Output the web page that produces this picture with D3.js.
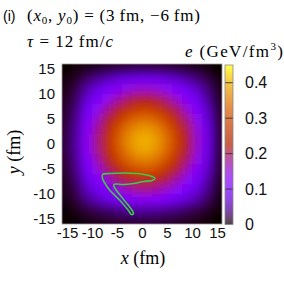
<!DOCTYPE html>
<html>
<head>
<meta charset="utf-8">
<script src="https://cdn.jsdelivr.net/npm/d3@7"></script>
<style>
body { margin: 0; background: #fff; }
svg { display: block; }
</style>
</head>
<body>
<svg></svg>
<script>
// energy density e (GeV/fm^3), 2 fm cells
var xCenters = [-15, -13, -11, -9, -7, -5, -3, -1, 1, 3, 5, 7, 9, 11, 13, 15]
var yCenters = [15, 13, 11, 9, 7, 5, 3, 1, -1, -3, -5, -7, -9, -11, -13, -15]
var eRows = [
  [0.001, 0.003, 0.006, 0.009, 0.013, 0.016, 0.018, 0.020, 0.020, 0.019, 0.017, 0.014, 0.011, 0.008, 0.004, 0.001],
  [0.004, 0.011, 0.028, 0.042, 0.055, 0.069, 0.080, 0.086, 0.088, 0.084, 0.074, 0.062, 0.048, 0.035, 0.019, 0.004],
  [0.007, 0.021, 0.051, 0.076, 0.100, 0.125, 0.145, 0.157, 0.160, 0.152, 0.135, 0.113, 0.088, 0.064, 0.035, 0.008],
  [0.010, 0.029, 0.070, 0.104, 0.138, 0.171, 0.199, 0.216, 0.220, 0.209, 0.186, 0.155, 0.121, 0.088, 0.048, 0.011],
  [0.013, 0.037, 0.090, 0.134, 0.177, 0.220, 0.255, 0.277, 0.281, 0.268, 0.239, 0.199, 0.155, 0.113, 0.062, 0.014],
  [0.015, 0.044, 0.108, 0.160, 0.213, 0.264, 0.306, 0.332, 0.338, 0.321, 0.286, 0.239, 0.186, 0.135, 0.074, 0.017],
  [0.017, 0.049, 0.122, 0.180, 0.239, 0.296, 0.344, 0.373, 0.379, 0.361, 0.321, 0.268, 0.209, 0.152, 0.084, 0.019],
  [0.018, 0.052, 0.128, 0.189, 0.251, 0.311, 0.361, 0.392, 0.398, 0.379, 0.338, 0.281, 0.220, 0.160, 0.088, 0.020],
  [0.018, 0.051, 0.126, 0.186, 0.247, 0.306, 0.355, 0.386, 0.392, 0.373, 0.332, 0.277, 0.216, 0.157, 0.086, 0.020],
  [0.016, 0.047, 0.116, 0.171, 0.227, 0.282, 0.327, 0.355, 0.361, 0.344, 0.306, 0.255, 0.199, 0.145, 0.080, 0.018],
  [0.014, 0.041, 0.100, 0.148, 0.196, 0.243, 0.282, 0.306, 0.311, 0.296, 0.264, 0.220, 0.171, 0.125, 0.069, 0.016],
  [0.011, 0.033, 0.080, 0.119, 0.158, 0.196, 0.227, 0.247, 0.251, 0.239, 0.213, 0.177, 0.138, 0.100, 0.055, 0.013],
  [0.009, 0.025, 0.061, 0.090, 0.119, 0.148, 0.171, 0.186, 0.189, 0.180, 0.160, 0.134, 0.104, 0.076, 0.042, 0.009],
  [0.006, 0.017, 0.041, 0.061, 0.080, 0.100, 0.116, 0.126, 0.128, 0.122, 0.108, 0.090, 0.070, 0.051, 0.028, 0.006],
  [0.002, 0.007, 0.017, 0.025, 0.033, 0.041, 0.047, 0.051, 0.052, 0.049, 0.044, 0.037, 0.029, 0.021, 0.011, 0.003],
  [0.001, 0.002, 0.006, 0.009, 0.011, 0.014, 0.016, 0.018, 0.018, 0.017, 0.015, 0.013, 0.010, 0.007, 0.004, 0.001]
]

// green contour (fm)
var contourX = [-7.9, -6.4, -3.7, -1.1, 0.9, 2.0, 2.6, 2.0, 0.3, -1.7, -3.7, -5.1, -5.6, -5.6, -5.1, -4.1, -2.7, -1.9, -1.7, -2.1, -2.7, -4.4, -6.4, -7.4, -7.9]
var contourY = [-6.1, -5.9, -5.8, -5.9, -6.2, -6.5, -6.9, -7.3, -7.5, -7.9, -8.1, -8.0, -8.1, -8.5, -9.3, -10.6, -12.3, -13.4, -13.9, -14.1, -13.3, -11.3, -9.3, -7.9, -6.9]

var axisTicks = [-15, -10, -5, 0, 5, 10, 15]
var barTicks = [0, 0.1, 0.2, 0.3, 0.4]

var width = 284
var height = 284
var serif = "'Liberation Serif', 'DejaVu Serif', serif"
var sans = "'Liberation Sans', Arial, sans-serif"

var xScale = d3.scaleLinear().domain([-16, 16]).range([62, 222])
var yScale = d3.scaleLinear().domain([-16, 16]).range([224, 64])
var barScale = d3.scaleLinear().domain([0, 0.45]).range([224.5, 65])

// gnuplot default palette (rgbformulae 7,5,15)
function gnuplot(t) {
  var r = Math.sqrt(t), g = t * t * t, b = Math.max(0, Math.sin(2 * Math.PI * t))
  return d3.rgb(255 * r, 255 * g, 255 * b) + ''
}
var color = d3.scaleSequential(gnuplot).domain([0, 0.45]).clamp(true)

var svg = d3.select('svg')
  .attr('width', width)
  .attr('height', height)

var defs = svg.append('defs')
defs.append('clipPath').attr('id', 'plotclip')
  .append('rect')
    .attr('x', 62).attr('y', 64).attr('width', 160).attr('height', 160)
defs.append('filter').attr('id', 'soft')
    .attr('x', '-10%').attr('y', '-10%').attr('width', '120%').attr('height', '120%')
  .append('feGaussianBlur').attr('stdDeviation', 4.2)

var cells = eRows.flatMap((row, j) => row.map((v, i) => ({x: xCenters[i], y: yCenters[j], v: v})))

var heat = svg.append('g').attr('clip-path', 'url(#plotclip)')
heat.append('rect')
  .attr('x', 62).attr('y', 64).attr('width', 160).attr('height', 160)
  .attr('fill', '#000')

// edge cells are stretched past the frame so the blur doesn't fade there
var lo = d => d === -15 ? -20 : d - 1
var hi = d => d === 15 ? 20 : d + 1
heat.append('g')
    .attr('filter', 'url(#soft)')
  .selectAll('rect')
  .data(cells)
  .enter()
  .append('rect')
    .attr('x', d => xScale(lo(d.x)))
    .attr('y', d => yScale(hi(d.y)))
    .attr('width', d => xScale(hi(d.x)) - xScale(lo(d.x)) + 0.5)
    .attr('height', d => yScale(lo(d.y)) - yScale(hi(d.y)) + 0.5)
    .attr('fill', d => color(d.v))

// contour
var contour = contourX.map((x, i) => [x, contourY[i]])
svg.append('path')
  .attr('d', d3.line().x(d => xScale(d[0])).y(d => yScale(d[1])).curve(d3.curveCatmullRomClosed)(contour))
  .attr('fill', 'none')
  .attr('stroke', '#3fc84a')
  .attr('stroke-width', 1.6)

svg.append('rect')
  .attr('x', 62).attr('y', 64).attr('width', 160).attr('height', 160)
  .attr('fill', 'none')
  .attr('stroke', '#999')
  .attr('stroke-width', 0.8)

// axes
var yAxis = svg.append('g')
  .attr('transform', 'translate(62,0)')
  .call(d3.axisLeft(yScale).tickValues(axisTicks).tickSize(0).tickPadding(7).tickFormat(d => String(d)))
var xAxis = svg.append('g')
  .attr('transform', 'translate(0,224)')
  .call(d3.axisBottom(xScale).tickValues(axisTicks).tickSize(0).tickPadding(3).tickFormat(d => String(d)))
;[xAxis, yAxis].forEach(a => {
  a.select('.domain').remove()
  a.selectAll('text').attr('font-family', sans).attr('font-size', 15).attr('fill', '#111')
})

// colour bar
var grad = defs.append('linearGradient').attr('id', 'bargrad')
  .attr('x1', 0).attr('y1', 1).attr('x2', 0).attr('y2', 0)
grad.selectAll('stop')
  .data(d3.range(0, 1.0001, 0.025))
  .enter()
  .append('stop')
    .attr('offset', d => d)
    .attr('stop-color', d => color(d * 0.45))

svg.append('rect')
  .attr('x', 225).attr('y', barScale(0.45))
  .attr('width', 8).attr('height', barScale(0) - barScale(0.45))
  .attr('fill', 'url(#bargrad)')
  .attr('opacity', 0.72)
svg.selectAll('.barline')
  .data(barTicks.slice(1))
  .enter()
  .append('line')
    .attr('x1', 225).attr('x2', 233)
    .attr('y1', d => barScale(d)).attr('y2', d => barScale(d))
    .attr('stroke', '#333').attr('stroke-width', 0.9)
svg.append('rect')
  .attr('x', 225).attr('y', barScale(0.45))
  .attr('width', 8).attr('height', barScale(0) - barScale(0.45))
  .attr('fill', 'none').attr('stroke', '#888').attr('stroke-width', 0.8)

var barAxis = svg.append('g')
  .attr('transform', 'translate(233,0)')
  .call(d3.axisRight(barScale).tickValues(barTicks).tickSize(0).tickPadding(12).tickFormat(d => String(d)))
barAxis.select('.domain').remove()
barAxis.selectAll('text').attr('font-family', sans).attr('font-size', 16).attr('fill', '#111')

// labels
svg.append('text').attr('x', 3).attr('y', 21)
  .attr('font-family', sans).attr('font-size', 14).text('(i)')

var t1 = svg.append('text').attr('x', 27).attr('y', 21)
  .attr('font-family', serif).attr('font-size', 17)
  .attr('textLength', 173).attr('lengthAdjust', 'spacing')
t1.append('tspan').text('(')
t1.append('tspan').attr('font-style', 'italic').text('x')
t1.append('tspan').attr('font-size', 11).attr('dy', 3).text('0')
t1.append('tspan').attr('dy', -3).text(', ')
t1.append('tspan').attr('font-style', 'italic').text('y')
t1.append('tspan').attr('font-size', 11).attr('dy', 3).text('0')
t1.append('tspan').attr('dy', -3).text(') = (3\u2009fm, \u22126\u2009fm)')

var t2 = svg.append('text').attr('x', 27).attr('y', 47)
  .attr('font-family', serif).attr('font-size', 17)
  .attr('textLength', 86).attr('lengthAdjust', 'spacing')
t2.append('tspan').attr('font-style', 'italic').text('\u03c4')
t2.append('tspan').text(' = 12\u2009fm/')
t2.append('tspan').attr('font-style', 'italic').text('c')

var t3 = svg.append('text').attr('x', 185).attr('y', 57)
  .attr('font-family', serif).attr('font-size', 17)
  .attr('textLength', 98).attr('lengthAdjust', 'spacing')
t3.append('tspan').attr('font-style', 'italic').text('e')
t3.append('tspan').text('  (GeV/fm')
t3.append('tspan').attr('font-size', 11).attr('dy', -7).text('3')
t3.append('tspan').attr('dy', 7).text(')')

var xl = svg.append('text').attr('x', 143).attr('y', 264).attr('text-anchor', 'middle')
  .attr('font-family', serif).attr('font-size', 18)
xl.append('tspan').attr('font-style', 'italic').text('x')
xl.append('tspan').text(' (fm)')

var yl = svg.append('text')
  .attr('transform', 'translate(20,152) rotate(-90)')
  .attr('text-anchor', 'middle')
  .attr('font-family', serif).attr('font-size', 18)
yl.append('tspan').attr('font-style', 'italic').text('y')
yl.append('tspan').text(' (fm)')
</script>
</body>
</html>
